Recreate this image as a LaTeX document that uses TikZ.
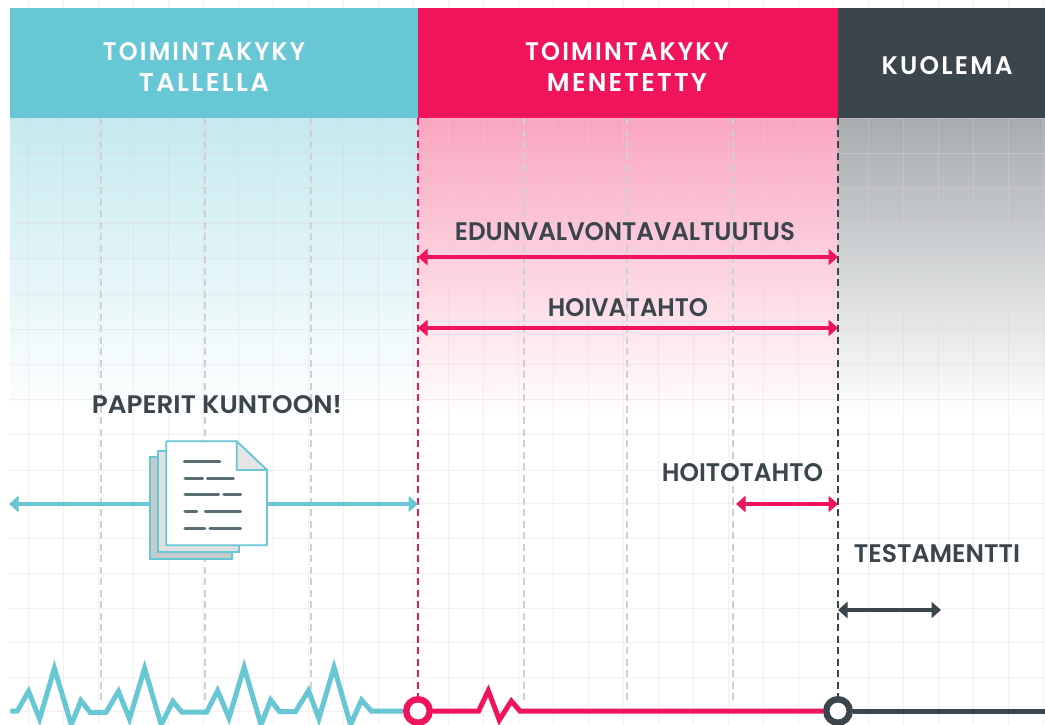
\documentclass[tikz,border=0pt]{standalone}
\usepackage{fontspec}
\usetikzlibrary{arrows.meta}
\setmainfont{Poppins}[BoldFont={Poppins SemiBold}]
\newfontfamily\hdrfont{Poppins SemiBold}[LetterSpace=9]
\definecolor{teal1}{HTML}{67C7D5}
\definecolor{red1}{HTML}{F0145A}
\definecolor{dark1}{HTML}{3B464C}
\definecolor{grid1}{HTML}{E6CFD6}
\definecolor{gray1}{HTML}{CDD1D4}
\definecolor{doc1}{HTML}{5A6E74}
\newcommand{\fitw}[3]{\resizebox{#1pt}{#2pt}{\bfseries #3}}
\newcommand{\fith}[3]{\resizebox{#1pt}{#2pt}{\hdrfont #3}}
\tikzset{
  x=1pt,y=-1pt,
  head/.style={draw=none,fill=#1,inner sep=0pt,minimum width=0pt,minimum height=0pt,align=center,text=white},
  lab/.style={inner sep=0pt,text=dark1},
  hdr/.style={inner sep=0pt,text=white},
  gridl/.style={draw=grid1,line width=1pt,opacity=0.33},
  vdash/.style={line width=2.8pt,dash pattern=on 7pt off 4.5pt},
  span/.style={line width=4.6pt,{Triangle[length=9.5pt,width=16pt]}-{Triangle[length=9.5pt,width=16pt]}},
  ecg/.style={line width=5pt,line join=miter,line cap=butt},
  ring/.style={circle,fill=white,line width=6.4pt,minimum size=23.5pt,inner sep=0pt},
  docpage/.style={draw=teal1,line width=1.7pt},
  docline/.style={draw=doc1,line width=3pt,line cap=round},
}
\begin{document}
\begin{tikzpicture}
\useasboundingbox (0,0) rectangle (1045,725);
\clip (0,0) rectangle (1045,725);
\fill[white] (0,0) rectangle (1045,725);
% gradients
\shade[top color=teal1!38!white,bottom color=white] (10,118) rectangle (418,415);
\shade[top color=red1!38!white,bottom color=white] (418,118) rectangle (838,415);
\shade[top color=dark1!45!white,bottom color=white] (838,118) rectangle (1045,415);
% grid
\foreach \gx in {28,63,...,1043} \draw[gridl] (\gx,0) -- (\gx,725);
\foreach \gy in {118,153.2,188.4,223.6,258.8,294,329.2,364.4,399.6,434.8,470,503,538,573,608,642,677,711} \draw[gridl] (10,\gy) -- (1045,\gy);
% grey dashes
\foreach \gx in {101,205,311,524,627,733} \draw[vdash,draw=gray1] (\gx,118) -- (\gx,700);
% header bands
\node[head=teal1,anchor=north west,minimum width=408pt,minimum height=110pt] (hA) at (10,8) {};
\node[head=red1,anchor=north west,minimum width=420pt,minimum height=110pt] (hB) at (418,8) {};
\node[head=dark1,anchor=north west,minimum width=207pt,minimum height=110pt] (hC) at (838,8) {};
\node[hdr] (t1) at (204,52) {\fith{202}{18}{TOIMINTAKYKY}};
\node[hdr] (t2) at (204,82) {\fith{130}{18}{TALLELLA}};
\node[hdr] (t3) at (627,52) {\fith{204}{18}{TOIMINTAKYKY}};
\node[hdr] (t4) at (627,82) {\fith{160}{18}{MENETETTY}};
\node[hdr] (t5) at (947,66) {\fith{131}{18}{KUOLEMA}};
% rings
\node[ring,draw=red1] (c1) at (418,711) {};
\node[ring,draw=dark1] (c2) at (838,711) {};
% coloured dashes
\coordinate (r0) at (418,118);
\coordinate (d0) at (838,118);
\draw[vdash,draw=red1] (r0) -- (c1);
\draw[vdash,draw=dark1] (d0) -- (c2);
% spans
\coordinate (a1l) at (418,257); \coordinate (a1r) at (838,257);
\coordinate (a2l) at (418,328); \coordinate (a2r) at (838,328);
\coordinate (a3l) at (736,504); \coordinate (a3r) at (838,504);
\coordinate (a4l) at (838,610); \coordinate (a4r) at (941,610);
\coordinate (a5l) at (9,504);   \coordinate (a5r) at (418,504);
\draw[span,color=red1] (a1l) -- (a1r);
\draw[span,color=red1] (a2l) -- (a2r);
\draw[span,color=red1] (a3l) -- (a3r);
\draw[span,color=dark1] (a4l) -- (a4r);
\draw[span,color=teal1] (a5l) -- (a5r);
% labels
\node[lab] (l1) at (625,232) {\fitw{340}{18}{EDUNVALVONTAVALTUUTUS}};
\node[lab] (l2) at (628,308) {\fitw{160}{18}{HOIVATAHTO}};
\node[lab] (l3) at (217,405) {\fitw{250}{18}{PAPERIT KUNTOON!}};
\node[lab] (l4) at (742.5,473) {\fitw{161}{18}{HOITOTAHTO}};
\node[lab] (l5) at (937,554) {\fitw{166}{18}{TESTAMENTTI}};
% document icon
\begin{scope}[shift={(120,420)},x=0.3333pt,y=-0.3333pt]
\draw[fill=doc1!35!white,docpage] (91,112) rectangle (336,416);
\draw[fill=doc1!20!white,docpage] (115,93) rectangle (358,397);
\draw[docpage,fill=white,line join=round] (139,64) -- (350,64) -- (441,150) -- (441,376) -- (139,376) -- cycle;
\draw[docpage,fill=black!10,line join=round] (350,64) -- (441,150) -- (350,150) -- cycle;
\draw[docline] (193,126) -- (300,126);
\draw[docline] (195,175) -- (248,175) (262,175) -- (340,175);
\draw[docline] (195,224) -- (296,224) (312,224) -- (362,224);
\draw[docline] (195,275) -- (230,275) (256,275) -- (362,275);
\draw[docline] (195,325) -- (255,325) (270,325) -- (362,325);
\end{scope}
% pulse lines
\begin{scope}[shift={(0,638)},x=0.34435pt,y=-0.34435pt]
\coordinate (p0) at (30,212);
\draw[ecg,draw=teal1] (p0) -- (50,212) -- (83,155) -- (115,235) -- (158,88) -- (207,252) -- (235,182) -- (262,216) -- (308,216) -- (344,155) -- (376,235) -- (420,88) -- (468,252) -- (502,184) -- (528,215) -- (600,215) -- (632,153) -- (665,232) -- (709,85) -- (758,252) -- (786,180) -- (812,214) -- (858,214) -- (896,153) -- (926,234) -- (970,85) -- (1018,252) -- (1050,180) -- (1078,212) -- (c1);
\draw[ecg,draw=red1] (c1) -- (1390,212) -- (1418,153) -- (1450,238) -- (1485,183) -- (1510,212) -- (c2);
\end{scope}
\coordinate (e2) at (1045,711);
\draw[ecg,draw=dark1] (c2) -- (e2);
\end{tikzpicture}
\end{document}
